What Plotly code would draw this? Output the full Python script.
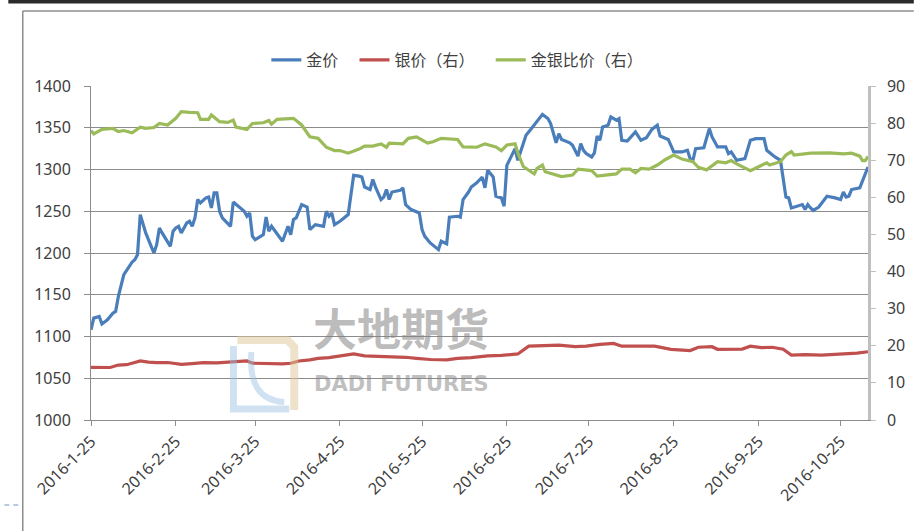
import plotly.graph_objects as go

# ---------------- data ----------------
gold_dates = [
    "2016-01-25", "2016-01-26", "2016-01-28", "2016-01-29", "2016-01-31", "2016-02-02", "2016-02-03",
    "2016-02-04", "2016-02-06", "2016-02-08", "2016-02-09", "2016-02-10", "2016-02-11", "2016-02-12",
    "2016-02-14", "2016-02-16", "2016-02-17", "2016-02-18", "2016-02-19", "2016-02-20", "2016-02-23",
    "2016-02-24", "2016-02-25", "2016-02-26", "2016-02-27", "2016-02-29", "2016-03-01", "2016-03-02",
    "2016-03-03", "2016-03-04", "2016-03-05", "2016-03-07", "2016-03-08", "2016-03-09", "2016-03-10",
    "2016-03-11", "2016-03-12", "2016-03-13", "2016-03-16", "2016-03-17", "2016-03-19", "2016-03-21",
    "2016-03-22", "2016-03-23", "2016-03-24", "2016-03-25", "2016-03-27", "2016-03-28", "2016-03-29",
    "2016-03-30", "2016-03-31", "2016-04-02", "2016-04-03", "2016-04-04", "2016-04-06", "2016-04-07",
    "2016-04-08", "2016-04-09", "2016-04-11", "2016-04-13", "2016-04-14", "2016-04-16", "2016-04-19",
    "2016-04-20", "2016-04-21", "2016-04-22", "2016-04-23", "2016-04-25", "2016-04-28", "2016-04-30",
    "2016-05-02", "2016-05-03", "2016-05-04", "2016-05-06", "2016-05-07", "2016-05-08", "2016-05-10",
    "2016-05-11", "2016-05-12", "2016-05-13", "2016-05-14", "2016-05-17", "2016-05-18", "2016-05-19",
    "2016-05-21", "2016-05-24", "2016-05-25", "2016-05-26", "2016-05-28", "2016-05-31", "2016-06-01",
    "2016-06-03", "2016-06-04", "2016-06-07", "2016-06-08", "2016-06-09", "2016-06-11", "2016-06-12",
    "2016-06-14", "2016-06-16", "2016-06-17", "2016-06-18", "2016-06-20", "2016-06-21", "2016-06-23",
    "2016-06-24", "2016-06-25", "2016-06-28", "2016-06-29", "2016-06-30", "2016-07-02", "2016-07-04",
    "2016-07-06", "2016-07-07", "2016-07-08", "2016-07-10", "2016-07-11", "2016-07-13", "2016-07-14",
    "2016-07-15", "2016-07-18", "2016-07-19", "2016-07-21", "2016-07-22", "2016-07-23", "2016-07-24",
    "2016-07-26", "2016-07-27", "2016-07-28", "2016-07-29", "2016-07-30", "2016-08-01", "2016-08-02",
    "2016-08-04", "2016-08-05", "2016-08-06", "2016-08-08", "2016-08-11", "2016-08-13", "2016-08-15",
    "2016-08-17", "2016-08-19", "2016-08-20", "2016-08-23", "2016-08-25", "2016-08-28", "2016-08-30",
    "2016-08-31", "2016-09-01", "2016-09-02", "2016-09-05", "2016-09-07", "2016-09-08", "2016-09-10",
    "2016-09-13", "2016-09-14", "2016-09-15", "2016-09-17", "2016-09-20", "2016-09-22", "2016-09-24",
    "2016-09-27", "2016-09-28", "2016-10-01", "2016-10-03", "2016-10-05", "2016-10-06", "2016-10-07",
    "2016-10-09", "2016-10-11", "2016-10-12", "2016-10-13", "2016-10-14", "2016-10-15", "2016-10-17",
    "2016-10-20", "2016-10-23", "2016-10-25", "2016-10-26", "2016-10-27", "2016-10-28", "2016-10-29",
    "2016-11-01", "2016-11-02", "2016-11-04",
]
gold_price = [
    1108, 1122, 1124, 1115, 1120, 1128, 1130,
    1148, 1174, 1184, 1189, 1192, 1198, 1246,
    1224, 1208, 1200, 1210, 1230, 1224, 1208,
    1226, 1230, 1232, 1224, 1236, 1238, 1232,
    1242, 1264, 1260, 1266, 1267, 1254, 1272,
    1272, 1250, 1242, 1232, 1261, 1255, 1250,
    1244, 1248, 1220, 1216, 1220, 1222, 1243,
    1226, 1232, 1223, 1220, 1214, 1232, 1222,
    1240, 1242, 1258, 1255, 1228, 1234, 1232,
    1250, 1244, 1248, 1234, 1238, 1246, 1293,
    1292, 1291, 1279, 1276, 1288, 1279, 1264,
    1267, 1276, 1264, 1273, 1275, 1278, 1258,
    1252, 1248, 1228, 1220, 1212, 1204, 1214,
    1211, 1243, 1244, 1243, 1264, 1273, 1279,
    1284, 1291, 1278, 1299, 1291, 1268, 1266,
    1256, 1305, 1325, 1311, 1321, 1341, 1349,
    1357, 1361, 1366, 1361, 1355, 1332, 1343,
    1336, 1332, 1329, 1316, 1331, 1323, 1319,
    1315, 1320, 1340, 1335, 1351, 1353, 1363,
    1359, 1361, 1335, 1334, 1345, 1335, 1338,
    1348, 1353, 1340, 1336, 1321, 1321, 1323,
    1313, 1311, 1325, 1326, 1349, 1339, 1327,
    1327, 1319, 1321, 1311, 1313, 1335, 1337,
    1337, 1323, 1315, 1311, 1267, 1266, 1254,
    1256, 1258, 1252, 1258, 1254, 1251, 1255,
    1268, 1266, 1264, 1273, 1267, 1268, 1276,
    1278, 1287, 1303,
]

silver_dates = [
    "2016-01-25", "2016-01-29", "2016-02-01", "2016-02-04", "2016-02-07", "2016-02-09", "2016-02-12",
    "2016-02-15", "2016-02-18", "2016-02-22", "2016-02-25", "2016-02-27", "2016-03-02", "2016-03-06",
    "2016-03-11", "2016-03-17", "2016-03-22", "2016-03-24", "2016-03-29", "2016-04-04", "2016-04-07",
    "2016-04-10", "2016-04-14", "2016-04-17", "2016-04-21", "2016-04-25", "2016-04-30", "2016-05-04",
    "2016-05-09", "2016-05-15", "2016-05-19", "2016-05-23", "2016-05-28", "2016-06-03", "2016-06-07",
    "2016-06-12", "2016-06-18", "2016-06-23", "2016-06-29", "2016-07-03", "2016-07-08", "2016-07-14",
    "2016-07-20", "2016-07-24", "2016-07-29", "2016-08-03", "2016-08-06", "2016-08-12", "2016-08-18",
    "2016-08-24", "2016-08-31", "2016-09-03", "2016-09-08", "2016-09-10", "2016-09-15", "2016-09-19",
    "2016-09-22", "2016-09-26", "2016-09-30", "2016-10-04", "2016-10-07", "2016-10-12", "2016-10-18",
    "2016-10-22", "2016-10-26", "2016-10-31", "2016-11-04",
]
silver_price = [
    14.2, 14.1, 14.15, 14.8, 14.9, 15.3, 15.9,
    15.6, 15.45, 15.5, 15.3, 15.0, 15.2, 15.45,
    15.4, 15.7, 15.9, 15.3, 15.2, 15.1, 15.3,
    15.9, 16.2, 16.6, 16.8, 17.2, 17.8, 17.3,
    17.2, 17.1, 16.9, 16.6, 16.3, 16.2, 16.6,
    16.8, 17.3, 17.4, 17.8, 19.9, 20.0, 20.2,
    19.75, 19.9, 20.4, 20.65, 19.9, 20.0, 19.9,
    19.05, 18.7, 19.6, 19.75, 19.05, 19.0, 19.1,
    19.9, 19.5, 19.6, 19.05, 17.5, 17.6, 17.5,
    17.6, 17.7, 18.0, 18.4,
]

ratio_dates = [
    "2016-01-25", "2016-01-26", "2016-01-29", "2016-02-02", "2016-02-04", "2016-02-06", "2016-02-09",
    "2016-02-12", "2016-02-14", "2016-02-17", "2016-02-19", "2016-02-22", "2016-02-25", "2016-02-27",
    "2016-03-01", "2016-03-04", "2016-03-05", "2016-03-08", "2016-03-09", "2016-03-12", "2016-03-15",
    "2016-03-17", "2016-03-18", "2016-03-22", "2016-03-24", "2016-03-28", "2016-03-30", "2016-03-31",
    "2016-04-02", "2016-04-07", "2016-04-08", "2016-04-11", "2016-04-14", "2016-04-17", "2016-04-20",
    "2016-04-23", "2016-04-25", "2016-04-28", "2016-05-02", "2016-05-04", "2016-05-07", "2016-05-10",
    "2016-05-12", "2016-05-13", "2016-05-18", "2016-05-20", "2016-05-23", "2016-05-27", "2016-05-29",
    "2016-06-01", "2016-06-07", "2016-06-09", "2016-06-14", "2016-06-17", "2016-06-21", "2016-06-23",
    "2016-06-25", "2016-06-28", "2016-06-29", "2016-07-01", "2016-07-05", "2016-07-06", "2016-07-08",
    "2016-07-09", "2016-07-11", "2016-07-15", "2016-07-19", "2016-07-21", "2016-07-26", "2016-07-28",
    "2016-07-31", "2016-08-04", "2016-08-06", "2016-08-09", "2016-08-11", "2016-08-13", "2016-08-16",
    "2016-08-19", "2016-08-22", "2016-08-25", "2016-08-28", "2016-09-01", "2016-09-03", "2016-09-06",
    "2016-09-10", "2016-09-13", "2016-09-15", "2016-09-17", "2016-09-22", "2016-09-26", "2016-09-28",
    "2016-09-29", "2016-10-03", "2016-10-05", "2016-10-07", "2016-10-08", "2016-10-14", "2016-10-21",
    "2016-10-26", "2016-10-29", "2016-11-01", "2016-11-02", "2016-11-03", "2016-11-04",
]
ratio_values = [
    78.0, 77.1, 78.3, 78.6, 77.7, 78.0, 77.4,
    78.9, 78.6, 78.8, 79.9, 79.5, 81.3, 83.1,
    82.9, 82.8, 81.0, 81.0, 82.2, 80.4, 80.2,
    80.8, 78.9, 78.3, 79.9, 80.1, 80.7, 79.7,
    81.0, 81.3, 81.3, 79.5, 76.3, 75.9, 73.5,
    72.6, 72.6, 71.9, 73.0, 73.8, 73.8, 74.4,
    73.5, 74.6, 74.4, 75.9, 76.3, 74.6, 75.0,
    75.9, 75.6, 73.6, 73.5, 74.4, 73.6, 72.6,
    74.1, 74.4, 72.0, 68.3, 66.3, 67.8, 68.7,
    66.9, 66.5, 65.6, 66.0, 67.6, 67.2, 65.7,
    66.0, 66.3, 67.6, 67.6, 66.6, 67.8, 67.6,
    68.7, 70.2, 71.4, 70.3, 69.6, 68.1, 67.4,
    69.6, 69.3, 69.9, 69.0, 67.2, 68.7, 69.3,
    68.7, 69.6, 71.4, 72.3, 71.4, 71.9, 72.0,
    71.7, 71.9, 71.1, 69.9, 69.9, 71.0,
]

x_tick_vals = ["2016-01-25", "2016-02-25", "2016-03-25", "2016-04-25", "2016-05-25",
               "2016-06-25", "2016-07-25", "2016-08-25", "2016-09-25", "2016-10-25"]
x_tick_text = ["2016-1-25", "2016-2-25", "2016-3-25", "2016-4-25", "2016-5-25",
               "2016-6-25", "2016-7-25", "2016-8-25", "2016-9-25", "2016-10-25"]
x_range = ["2016-01-25", "2016-11-04"]

series_names = ["金价", "银价（右）", "金银比价（右）"]

# ---------------- figure ----------------
BLUE = "#4A7EBB"
RED = "#C0504D"
GREEN = "#9BBB59"
TXT = "#404040"
GRID = "#8C8C8C"
FONT = "Noto Sans, Noto Sans CJK SC, sans-serif"
PAD = "\u2002\u2009"  # extra spacing between legend entries, as in the reference

fig = go.Figure()
fig.add_trace(go.Scatter(x=gold_dates, y=gold_price, name=series_names[0] + PAD, mode="lines",
                         line=dict(color=BLUE, width=3.2)))
fig.add_trace(go.Scatter(x=silver_dates, y=silver_price, name=series_names[1] + PAD, mode="lines",
                         yaxis="y2", line=dict(color=RED, width=3.2)))
fig.add_trace(go.Scatter(x=ratio_dates, y=ratio_values, name=series_names[2], mode="lines",
                         yaxis="y2", line=dict(color=GREEN, width=3.2)))

def px_x(p):
    return (p - 91) / 780.0

def px_y(p):
    return (420 - p) / 334.0

shapes = [
    # dark bar at the very top
    dict(type="rect", xref="paper", yref="paper", x0=px_x(8), x1=px_x(917), y0=px_y(3.5), y1=px_y(0),
         line=dict(width=0), fillcolor="#2B2B2B", layer="above"),
    # grey frame (top + left)
    dict(type="line", xref="paper", yref="paper", x0=px_x(22.5), x1=px_x(917), y0=px_y(11), y1=px_y(11),
         line=dict(color="#8C8C8C", width=1.5)),
    dict(type="line", xref="paper", yref="paper", x0=px_x(22.5), x1=px_x(22.5), y0=px_y(11), y1=px_y(531),
         line=dict(color="#8C8C8C", width=1.5)),
    # little blue dashes bottom-left
    dict(type="line", xref="paper", yref="paper", x0=px_x(4), x1=px_x(9), y0=px_y(505), y1=px_y(505),
         line=dict(color="#6F95C8", width=1)),
    dict(type="line", xref="paper", yref="paper", x0=px_x(13), x1=px_x(18), y0=px_y(505), y1=px_y(505),
         line=dict(color="#6F95C8", width=1)),
    # watermark logo (tan frame + light blue stroke)
    dict(type="path", xref="paper", yref="paper",
         path=f"M {px_x(238)},{px_y(340)} L {px_x(288)},{px_y(340)} L {px_x(295)},{px_y(347)} L {px_x(295)},{px_y(410)}",
         line=dict(color="rgba(222,200,150,0.5)", width=8)),
    dict(type="path", xref="paper", yref="paper",
         path=f"M {px_x(234)},{px_y(346)} L {px_x(234)},{px_y(409)} L {px_x(290)},{px_y(409)}",
         line=dict(color="rgba(150,190,225,0.45)", width=7)),
    dict(type="path", xref="paper", yref="paper",
         path=f"M {px_x(252)},{px_y(352)} Q {px_x(248)},{px_y(400)} {px_x(285)},{px_y(402)}",
         line=dict(color="rgba(150,190,225,0.45)", width=6)),
]

annotations = [
    dict(text="<b>大地期货</b>", xref="paper", yref="paper", x=px_x(402), y=px_y(361),
         showarrow=False, font=dict(family="Noto Sans CJK SC", size=44, color="rgba(130,130,130,0.55)")),
    dict(text="<b>DADI FUTURES</b>", xref="paper", yref="paper", x=px_x(403), y=px_y(398),
         showarrow=False, font=dict(family="DejaVu Sans", size=21, color="rgba(130,130,130,0.50)")),
]

fig.update_layout(
    width=917, height=531,
    margin=dict(l=91, r=46, t=86, b=111, pad=0),
    paper_bgcolor="white", plot_bgcolor="white",
    font=dict(family=FONT, size=16, color=TXT),
    showlegend=True,
    legend=dict(orientation="h", x=px_x(267), xanchor="left", y=px_y(60), yanchor="middle",
                font=dict(family="Noto Sans CJK SC", size=16, color=TXT),
                bgcolor="rgba(0,0,0,0)", itemwidth=30),
    xaxis=dict(type="date", range=x_range, tickvals=x_tick_vals, ticktext=x_tick_text,
               tickangle=-45, ticks="outside", ticklen=5, tickcolor=GRID,
               showgrid=False, showline=True, linecolor=GRID, linewidth=1,
               tickfont=dict(family=FONT, size=16, color=TXT), zeroline=False),
    yaxis=dict(range=[1000, 1400], dtick=50, tick0=1000, ticks="outside", ticklen=6, tickcolor=GRID,
               showgrid=True, gridcolor=GRID, gridwidth=1, showline=True, linecolor=GRID, linewidth=1,
               tickfont=dict(family=FONT, size=16, color=TXT), zeroline=False, ticklabelstandoff=10),
    yaxis2=dict(range=[0, 90], dtick=10, tick0=0, overlaying="y", side="right",
                ticks="outside", ticklen=5, tickcolor="#BFBFBF",
                showgrid=False, showline=True, linecolor="#BFBFBF", linewidth=2.5,
                tickfont=dict(family=FONT, size=16, color=TXT), zeroline=False, ticklabelstandoff=8),
    shapes=shapes,
    annotations=annotations,
)

fig.write_html("out.html", config={"displayModeBar": False},
               post_script="document.body.style.margin='0';")
